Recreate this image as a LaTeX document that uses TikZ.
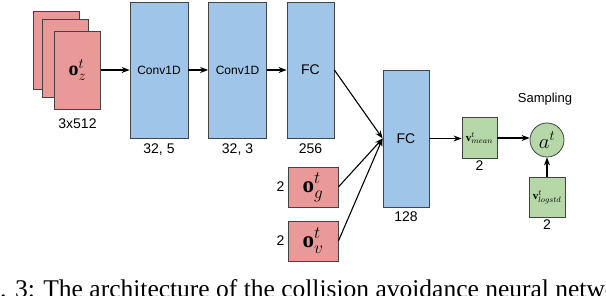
\documentclass[tikz,border=0pt]{standalone}
\usepackage{amsmath}
\usepackage{fontspec}
\setmainfont{Liberation Serif}
\setsansfont{Liberation Sans}
\usetikzlibrary{arrows.meta, positioning}
\definecolor{cPink}{RGB}{234,153,153}
\definecolor{cBlue}{RGB}{159,197,232}
\definecolor{cLeaf}{RGB}{182,215,168}
\definecolor{cEdge}{RGB}{67,67,67}
\tikzset{
	inbox/.style  ={rectangle, draw=cEdge, line width=0.8pt, fill=cPink, inner sep=0pt, minimum width=46pt, minimum height=78pt},
	obsbox/.style ={rectangle, draw=cEdge, line width=0.8pt, fill=cPink, inner sep=0pt, minimum width=50pt, minimum height=40pt, font=\fontsize{23}{25}\selectfont},
	layer/.style  ={rectangle, draw=cEdge, line width=0.8pt, fill=cBlue, inner sep=0pt, minimum height=136pt},
	outbox/.style ={rectangle, draw=cEdge, line width=0.8pt, fill=cLeaf, inner sep=0pt, minimum width=35pt, minimum height=41pt, font=\fontsize{11}{13}\selectfont},
	dimlbl/.style ={inner sep=1pt, font=\sffamily\fontsize{14}{16}\selectfont},
	sig/.style    ={-{Stealth[length=8pt, width=6pt]}, line width=1.1pt},
}
\begin{document}
\begin{tikzpicture}[x=1pt, y=-1pt]
	\clip (0,0) rectangle (606,296);
	% stacked laser scans
	\node[inbox] (oz3) at (56,50) {};
	\node[inbox] (oz2) at (65.5,58) {};
	\node[inbox, font=\fontsize{20}{22}\selectfont] (oz) at (77.5,70) {$\mathbf{o}^t_z$};
	\node[dimlbl, below=8pt of oz] (ozdim) {3x512};
	% conv and fc layers
	\node[layer, minimum width=58pt, font=\sffamily\fontsize{12}{14}\selectfont] (conv1) at (159,70) {Conv1D};
	\node[layer, minimum width=58pt, font=\sffamily\fontsize{12}{14}\selectfont] (conv2) at (237.5,70) {Conv1D};
	\node[layer, minimum width=47pt, font=\sffamily\fontsize{14}{16}\selectfont] (fc1) at (310.5,70) {FC};
	\node[dimlbl, below=4pt of conv1] (conv1dim) {32, 5};
	\node[dimlbl, below=4pt of conv2] (conv2dim) {32, 3};
	\node[dimlbl, below=4pt of fc1] (fc1dim) {256};
	% goal and velocity
	\node[obsbox] (og) at (313,187) {$\mathbf{o}^t_g$};
	\node[obsbox] (ov) at (313,241) {$\mathbf{o}^t_v$};
	\node[dimlbl, left=2pt of og] (ogdim) {2};
	\node[dimlbl, left=2pt of ov] (ovdim) {2};
	\node[layer, minimum width=46pt, minimum height=137pt, font=\sffamily\fontsize{14}{16}\selectfont] (fc2) at (406,138.5) {FC};
	\node[dimlbl, below=3pt of fc2] (fc2dim) {128};
	% policy output
	\node[outbox] (vmean) at (479.5,138) {$\mathbf{v}^t_{mean}$};
	\node[dimlbl, below=1pt of vmean] (vmeandim) {2};
	\node[circle, draw=cEdge, line width=0.8pt, fill=cLeaf, minimum size=34pt, inner sep=0pt, font=\fontsize{21}{23}\selectfont] (at) at (547,140) {$a^t$};
	\node[dimlbl, font=\sffamily\fontsize{13}{15}\selectfont] (samp) at (545,99) {Sampling};
	\node[outbox, minimum width=36pt, minimum height=40pt] (vstd) at (547,197) {$\mathbf{v}^t_{logstd}$};
	\node[dimlbl, below=1pt of vstd] (vstddim) {2};
	% connections
	\draw[sig] (oz) -- (conv1);
	\draw[sig] (conv1) -- (conv2);
	\draw[sig] (conv2) -- (fc1);
	\draw[sig] (fc1.east) -- (fc2.west);
	\draw[sig] (og.east) -- (fc2.west);
	\draw[sig] (ov.east) -- (fc2.west);
	\draw[sig] (fc2.east) -- (fc2.east -| vmean.west);
	\draw[sig] (vmean.east) -- (vmean.east -| at.west);
	\draw[sig] (vstd) -- (at);
	% caption, cut by the frame
	\node[anchor=base west, inner sep=0pt, font=\rmfamily\fontsize{25.5}{30}\selectfont] (cap) at (-34,298) {Fig. 3: The architecture of the collision avoidance neural network};
\end{tikzpicture}
\end{document}
